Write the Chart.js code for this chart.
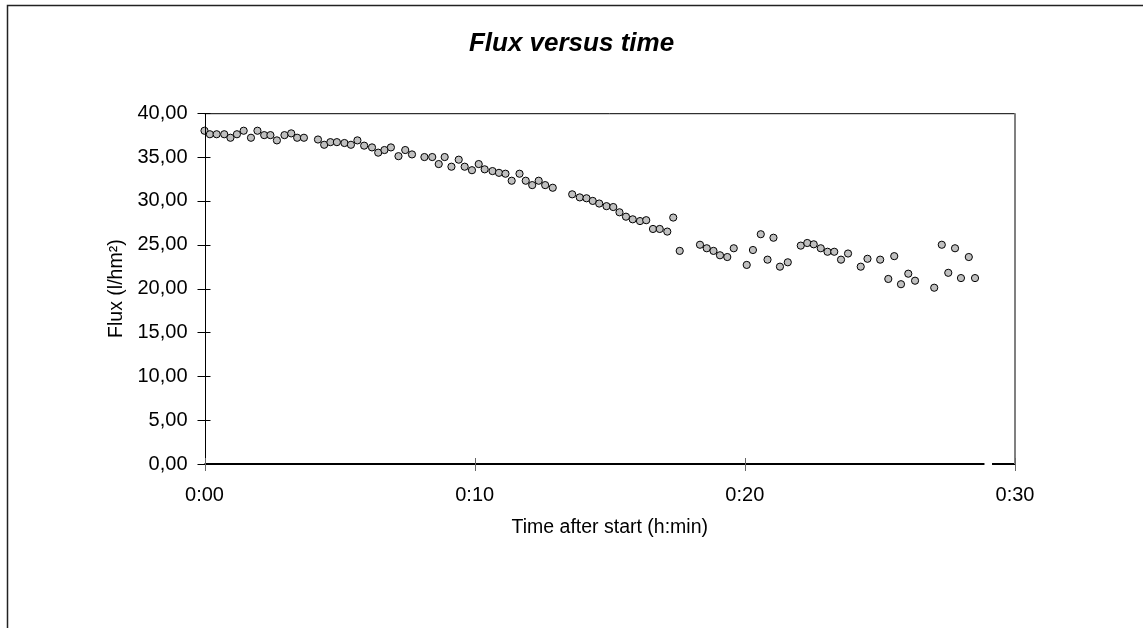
<!DOCTYPE html>
<html>
<head>
<meta charset="utf-8">
<title>Flux versus time</title>
<script src="https://cdn.jsdelivr.net/npm/chart.js@4.4.1/dist/chart.umd.min.js"></script>
<style>
    body { margin: 0; background: #fff; }
    canvas { display: block; }
</style>
</head>
<body>
<canvas id="fluxGraph" width="1143" height="628"></canvas>
<script>
// time after start in minutes
const fluxTimes = [
    0.00, 0.20, 0.45, 0.73, 0.96, 1.20, 1.45, 1.72, 1.96, 2.21, 2.44, 2.68, 2.96, 3.21, 3.43, 3.68,
    4.20, 4.43, 4.66, 4.90, 5.18, 5.42, 5.66, 5.91, 6.20, 6.43, 6.66, 6.90, 7.18, 7.43, 7.68,
    8.14, 8.43, 8.67, 8.89, 9.14, 9.41, 9.63,
    9.90, 10.15, 10.37, 10.66, 10.90, 11.14, 11.37, 11.66, 11.89, 12.13, 12.37, 12.61, 12.89,
    13.61, 13.89, 14.14, 14.37, 14.61, 14.88, 15.13, 15.36, 15.60, 15.85, 16.12, 16.35, 16.60, 16.85, 17.13, 17.35, 17.59,
    18.34, 18.59, 18.84, 19.08, 19.35, 19.59, 20.07, 20.30, 20.59, 20.84, 21.06, 21.30, 21.59,
    22.07, 22.31, 22.55, 22.81, 23.06, 23.31, 23.56, 23.82, 24.29, 24.54, 25.01, 25.31, 25.53, 25.78,
    26.05, 26.30, 27.01, 27.29, 27.53, 27.78, 28.00, 28.29, 28.52
];

// flux in l/hm2
const fluxValues = [
    38.0, 37.6, 37.6, 37.6, 37.2, 37.6, 38.0, 37.2, 38.0, 37.5, 37.5, 36.9, 37.5, 37.7, 37.2, 37.2,
    37.0, 36.4, 36.7, 36.7, 36.6, 36.4, 36.9, 36.3, 36.1, 35.5, 35.8, 36.1, 35.1, 35.8, 35.3,
    35.0, 35.0, 34.2, 35.0, 33.9, 34.7, 33.9,
    33.5, 34.2, 33.6, 33.4, 33.2, 33.1, 32.3, 33.1, 32.3, 31.8, 32.3, 31.8, 31.5,
    30.75, 30.4, 30.3, 30.0, 29.7, 29.4, 29.3, 28.7, 28.2, 27.9, 27.7, 27.8, 26.8, 26.8, 26.5, 28.1, 24.3,
    25.0, 24.6, 24.3, 23.8, 23.6, 24.6, 22.7, 24.4, 26.2, 23.3, 25.8, 22.5, 23.0,
    24.9, 25.2, 25.05, 24.6, 24.2, 24.2, 23.3, 24.0, 22.5, 23.4, 23.3, 21.1, 23.7, 20.5,
    21.7, 20.9, 20.1, 25.0, 21.8, 24.6, 21.2, 23.6, 21.2
];

// the black line lying on the zero axis (with a break near the end)
const zeroLineTimes = [0, 28.87, 29.0, 29.15, 30];
const zeroLineValues = [0, 0, null, 0, 0];

const yTickStep = 5;
const xTickStep = 10;

const fontFamily = "Arial, 'Liberation Sans', sans-serif";

function toPoints(xs, ys) {
    return xs.map((x, i) => ({ x: x, y: ys[i] }));
}

function formatTime(minutes) {
    const h = Math.floor(minutes / 60);
    const m = Math.round(minutes % 60);
    return `${h}:${String(m).padStart(2, '0')}`;
}

// frame of the plot, crossing tick marks and the outer border
const framePlugin = {
    id: 'frame',
    afterLayout(chart) {
        // center the title on the whole canvas, not only the padded area
        const t = chart.titleBlock;
        if (t) {
            t.left = 0;
            t.right = chart.width;
            t.width = chart.width;
        }
    },
    afterDraw(chart) {
        const ctx = chart.ctx;
        const area = chart.chartArea;
        const xScale = chart.scales.x;
        const yScale = chart.scales.y;

        ctx.save();
        ctx.strokeStyle = '#000';
        ctx.lineWidth = 1;

        ctx.beginPath();
        ctx.moveTo(area.left, area.top + 0.5);
        ctx.lineTo(area.right, area.top + 0.5);
        ctx.moveTo(Math.round(area.left) + 0.5, area.top);
        ctx.lineTo(Math.round(area.left) + 0.5, area.bottom);
        ctx.stroke();

        ctx.strokeStyle = '#808080';
        ctx.lineWidth = 2;
        ctx.beginPath();
        ctx.moveTo(area.right, area.top);
        ctx.lineTo(area.right, area.bottom);
        ctx.stroke();

        ctx.strokeStyle = '#000';
        ctx.lineWidth = 1;
        ctx.beginPath();
        yScale.ticks.forEach(t => {
            const py = Math.round(yScale.getPixelForValue(t.value)) + 0.5;
            ctx.moveTo(area.left - 7, py);
            ctx.lineTo(area.left + 6, py);
        });
        ctx.stroke();

        ctx.strokeStyle = '#666';
        ctx.beginPath();
        xScale.ticks.forEach(t => {
            const px = Math.round(xScale.getPixelForValue(t.value)) + 0.5;
            ctx.moveTo(px, area.bottom - 6);
            ctx.lineTo(px, area.bottom + 7);
        });
        ctx.stroke();

        // outer chart border
        ctx.strokeStyle = '#222';
        ctx.lineWidth = 1.5;
        ctx.strokeRect(7.5, 5.5, chart.width, chart.height);
        ctx.restore();
    }
};

const fluxGraph = document.getElementById('fluxGraph');

const fluxChart = new Chart(fluxGraph, {
    type: 'scatter',
    data: {
        datasets: [{
            label: 'Flux',
            data: toPoints(fluxTimes, fluxValues),
            pointRadius: 3.6,
            pointBackgroundColor: '#c0c0c0',
            pointBorderColor: '#000',
            pointBorderWidth: 1,
            showLine: false,
            clip: false
        }, {
            label: 'zero',
            type: 'line',
            data: toPoints(zeroLineTimes, zeroLineValues),
            borderColor: '#000',
            borderWidth: 2,
            pointRadius: 0,
            spanGaps: false,
            clip: false,
            order: 2
        }]
    },
    options: {
        responsive: false,
        animation: false,
        layout: {
            padding: { top: 0, right: 128, bottom: 0, left: 0 }
        },
        plugins: {
            legend: { display: false },
            tooltip: { enabled: false },
            title: {
                display: true,
                text: 'Flux versus time',
                color: '#000',
                font: { family: fontFamily, size: 26, style: 'italic', weight: 'bold' },
                padding: { top: 28, bottom: 54 }
            }
        },
        scales: {
            x: {
                type: 'linear',
                min: 0,
                max: 30,
                grid: { display: false, drawTicks: false },
                border: { display: false },
                ticks: {
                    stepSize: xTickStep,
                    padding: 19,
                    color: '#000',
                    font: { family: fontFamily, size: 20 },
                    maxRotation: 0,
                    callback: value => formatTime(value)
                },
                title: {
                    display: true,
                    text: 'Time after start (h:min)',
                    color: '#000',
                    font: { family: fontFamily, size: 19.5 },
                    padding: { top: 0, bottom: 89 }
                },
                afterFit: scale => { scale.height = 164; }
            },
            y: {
                min: 0,
                max: 40,
                grid: { display: false, drawTicks: false },
                border: { display: false },
                ticks: {
                    stepSize: yTickStep,
                    padding: 17,
                    color: '#000',
                    font: { family: fontFamily, size: 20 },
                    callback: value => value.toFixed(2).replace('.', ',')
                },
                title: {
                    display: true,
                    text: 'Flux (l/hm²)',
                    color: '#000',
                    font: { family: fontFamily, size: 19.5 },
                    padding: { top: 105, bottom: 0 }
                },
                afterFit: scale => { scale.width = 204.5; }
            }
        }
    },
    plugins: [framePlugin]
});
</script>
</body>
</html>
